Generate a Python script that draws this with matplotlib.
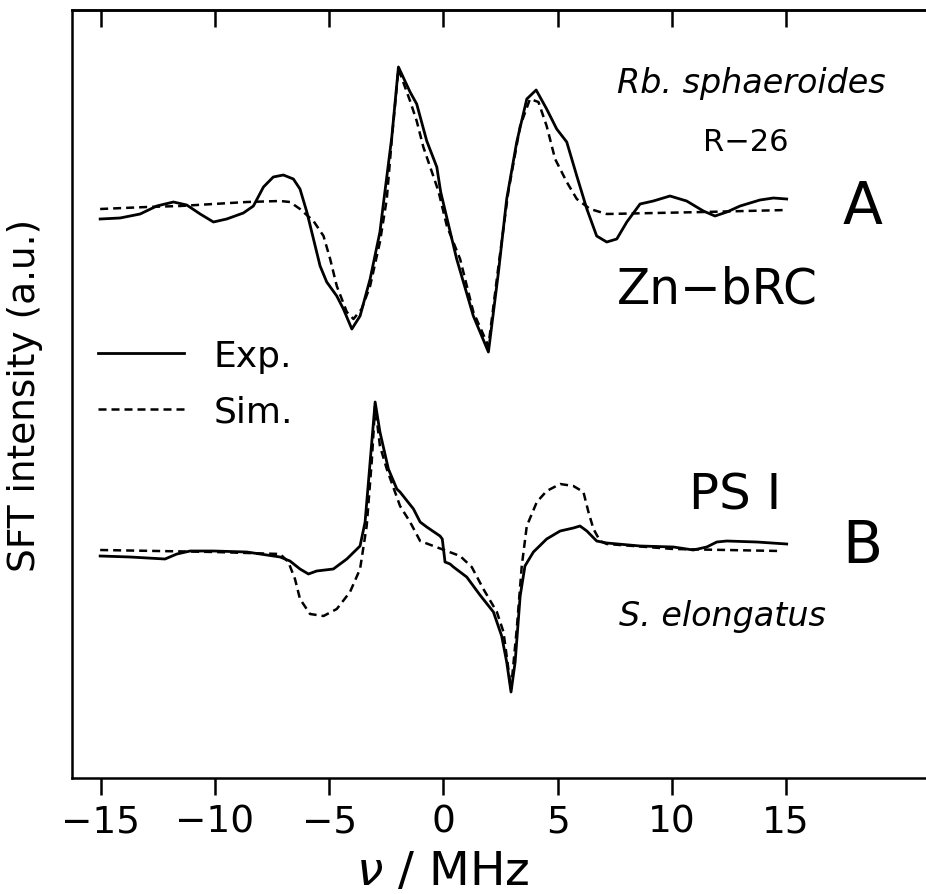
import matplotlib
matplotlib.use("Agg")
import matplotlib.pyplot as plt
import numpy as np

plt.rcParams['font.family'] = ['DejaVu Sans']
plt.rcParams['mathtext.fontset'] = 'dejavusans'

# ---- spectrum A: Zn-bRC (Rb. sphaeroides R-26) ----
a_exp_freq = [-15.03, -14.16, -13.28, -12.55, -11.82, -11.24, -10.65, -10.07, -9.49, -8.76,
              -8.32, -7.88, -7.45, -7.01, -6.57, -6.28, -5.98, -5.69, -5.40, -5.11,
              -4.67, -4.38, -4.01, -3.65, -3.21, -2.78, -2.63, -2.26, -1.97, -1.46,
              -1.17, -0.73, -0.29, -0.12, 0.58, 1.31, 1.97, 2.41, 2.77, 3.21,
              3.65, 4.06, 4.52, 4.96, 5.40, 5.84, 6.28, 6.71, 7.15, 7.59,
              8.03, 8.61, 9.19, 9.92, 10.65, 11.38, 11.89, 12.41, 12.99, 13.86,
              14.45, 15.03]
a_exp_int = [-0.10, -0.09, -0.05, 0.03, 0.07, 0.04, -0.05, -0.13, -0.10, -0.04,
             0.03, 0.22, 0.32, 0.34, 0.30, 0.20, -0.03, -0.30, -0.57, -0.73,
             -0.87, -1.00, -1.20, -1.07, -0.70, -0.23, 0.05, 0.72, 1.42, 1.17,
             1.05, 0.68, 0.42, 0.17, -0.50, -1.07, -1.43, -0.63, 0.10, 0.67,
             1.10, 1.19, 1.00, 0.80, 0.67, 0.33, 0.00, -0.27, -0.33, -0.30,
             -0.13, 0.05, 0.08, 0.13, 0.08, -0.02, -0.07, -0.03, 0.03, 0.09,
             0.11, 0.10]

a_sim_freq = [-15.03, -12.99, -11.53, -10.07, -8.61, -7.15, -6.72, -6.28, -5.69, -5.25,
              -4.96, -4.67, -4.23, -3.94, -3.58, -3.21, -2.78, -2.48, -2.26, -1.97,
              -1.46, -1.17, -0.88, -0.58, -0.22, 0.15, 0.73, 1.31, 1.97, 2.41,
              2.84, 3.36, 3.79, 4.16, 4.52, 4.89, 5.40, 5.84, 6.42, 7.15,
              11.40, 15.03]
a_sim_int = [0.00, 0.02, 0.03, 0.05, 0.07, 0.08, 0.07, 0.00, -0.12, -0.27,
             -0.50, -0.77, -1.03, -1.10, -1.00, -0.77, -0.33, 0.10, 0.70, 1.40,
             1.08, 0.88, 0.62, 0.42, 0.18, -0.17, -0.50, -1.03, -1.37, -0.57,
             0.17, 0.83, 1.10, 1.07, 0.83, 0.50, 0.27, 0.10, 0.00, -0.05,
             -0.03, -0.01]

# ---- spectrum B: PS I (S. elongatus) ----
b_exp_freq = [-15.03, -13.72, -12.19, -11.67, -11.09, -10.07, -8.61, -7.15, -6.72, -6.28,
              -5.91, -5.55, -4.82, -4.23, -3.65, -3.43, -3.21, -2.99, -2.78, -2.41,
              -2.04, -1.90, -1.31, -1.02, -0.73, -0.15, -0.05, 0.07, 0.29, 0.44,
              1.02, 1.60, 2.19, 2.55, 2.77, 2.96, 3.14, 3.36, 3.57, 3.94,
              4.52, 5.11, 5.69, 5.98, 6.28, 6.71, 7.15, 8.61, 10.07, 10.94,
              11.53, 11.97, 12.41, 13.72, 15.03]
b_exp_int = [-0.06, -0.07, -0.09, -0.04, -0.01, -0.01, -0.02, -0.07, -0.11, -0.19,
             -0.24, -0.21, -0.19, -0.09, 0.04, 0.28, 0.88, 1.48, 1.18, 0.81,
             0.61, 0.58, 0.41, 0.28, 0.23, 0.14, 0.11, -0.12, -0.14, -0.17,
             -0.27, -0.45, -0.62, -0.86, -1.12, -1.42, -1.12, -0.46, -0.16, -0.02,
             0.11, 0.19, 0.22, 0.24, 0.19, 0.09, 0.07, 0.04, 0.03, 0.00,
             0.03, 0.08, 0.09, 0.08, 0.06]

b_sim_freq = [-15.03, -10.00, -7.15, -6.79, -6.50, -6.28, -5.84, -5.25, -4.67, -4.09,
              -3.65, -3.36, -3.14, -2.99, -2.78, -2.48, -1.90, -1.46, -1.02, -0.44,
              0.15, 0.73, 1.24, 1.75, 2.34, 2.63, 2.96, 3.21, 3.43, 3.65,
              4.09, 4.52, 5.11, 5.69, 6.13, 6.35, 6.57, 6.86, 7.15, 10.07,
              14.74]
b_sim_int = [0.00, -0.02, -0.04, -0.12, -0.29, -0.49, -0.64, -0.66, -0.59, -0.42,
             -0.19, 0.24, 0.88, 1.44, 1.04, 0.81, 0.44, 0.28, 0.09, 0.04,
             -0.01, -0.06, -0.17, -0.39, -0.62, -0.82, -1.39, -0.79, -0.16, 0.24,
             0.48, 0.59, 0.66, 0.64, 0.58, 0.38, 0.21, 0.09, 0.06, 0.01,
             -0.01]

offset_a = 5.693
offset_b = 2.283

x_ticks = [-15, -10, -5, 0, 5, 10, 15]
x_ticklabels = ['\u221215', '\u221210', '\u22125', '0', '5', '10', '15']

fig = plt.figure(figsize=(9.26, 8.95), dpi=100)
W, H = 926.0, 895.0
ax = fig.add_axes([72.3 / W, (H - 779.3) / H, (W - 72.3) / W, (779.3 - 11.0) / H])

lw = 2.0
dash = (3.2, 2.0)

ax.plot(a_exp_freq, np.array(a_exp_int) + offset_a, color='black', lw=lw, label='Exp.')
ax.plot(a_sim_freq, np.array(a_sim_int) + offset_a, color='black', lw=1.8,
        dashes=dash, label='Sim.')
ax.plot(b_exp_freq, np.array(b_exp_int) + offset_b, color='black', lw=lw)
ax.plot(b_sim_freq, np.array(b_sim_int) + offset_b, color='black', lw=1.8, dashes=dash)

ax.set_xlim(-16.25, 21.13)
ax.set_ylim(0, 7.683)

for side in ('left', 'bottom', 'top'):
    ax.spines[side].set_linewidth(1.8)
ax.spines['right'].set_visible(False)

ax.set_yticks([])
ax.set_xticks(x_ticks)
ax.set_xticklabels(x_ticklabels, fontsize=27)
ax.tick_params(axis='x', direction='out', length=12, width=1.8, pad=6)

top = ax.secondary_xaxis('top')
top.set_xticks(x_ticks)
top.tick_params(axis='x', direction='in', length=12, width=1.8, labeltop=False)
top.spines['top'].set_linewidth(1.8)

ax.set_ylabel('SFT intensity (a.u.)', fontsize=27)
ax.yaxis.set_label_coords(-0.034, 0.50)
ax.set_xlabel(r'$\nu$ / MHz', fontsize=34)
ax.xaxis.set_label_coords(0.434, -0.092)

# annotations
ax.text(13.5, 6.96, 'Rb. sphaeroides', fontsize=24, style='italic', ha='center', va='center')
ax.text(13.24, 6.37, 'R\u221226', fontsize=22, ha='center', va='center')
ax.text(11.98, 4.90, 'Zn\u2212bRC', fontsize=35, ha='center', va='center')
ax.text(18.35, 5.72, 'A', fontsize=42, ha='center', va='center')
ax.text(12.77, 2.84, 'PS I', fontsize=36, ha='center', va='center')
ax.text(18.35, 2.33, 'B', fontsize=42, ha='center', va='center')
ax.text(12.2, 1.63, 'S. elongatus', fontsize=24, style='italic', ha='center', va='center')

ax.legend(loc='upper left', bbox_to_anchor=(0.0, 0.605), frameon=False, fontsize=26,
          handlelength=2.4, handletextpad=0.8, labelspacing=0.6, borderaxespad=0.3)

fig.savefig('out.png', dpi=100)
